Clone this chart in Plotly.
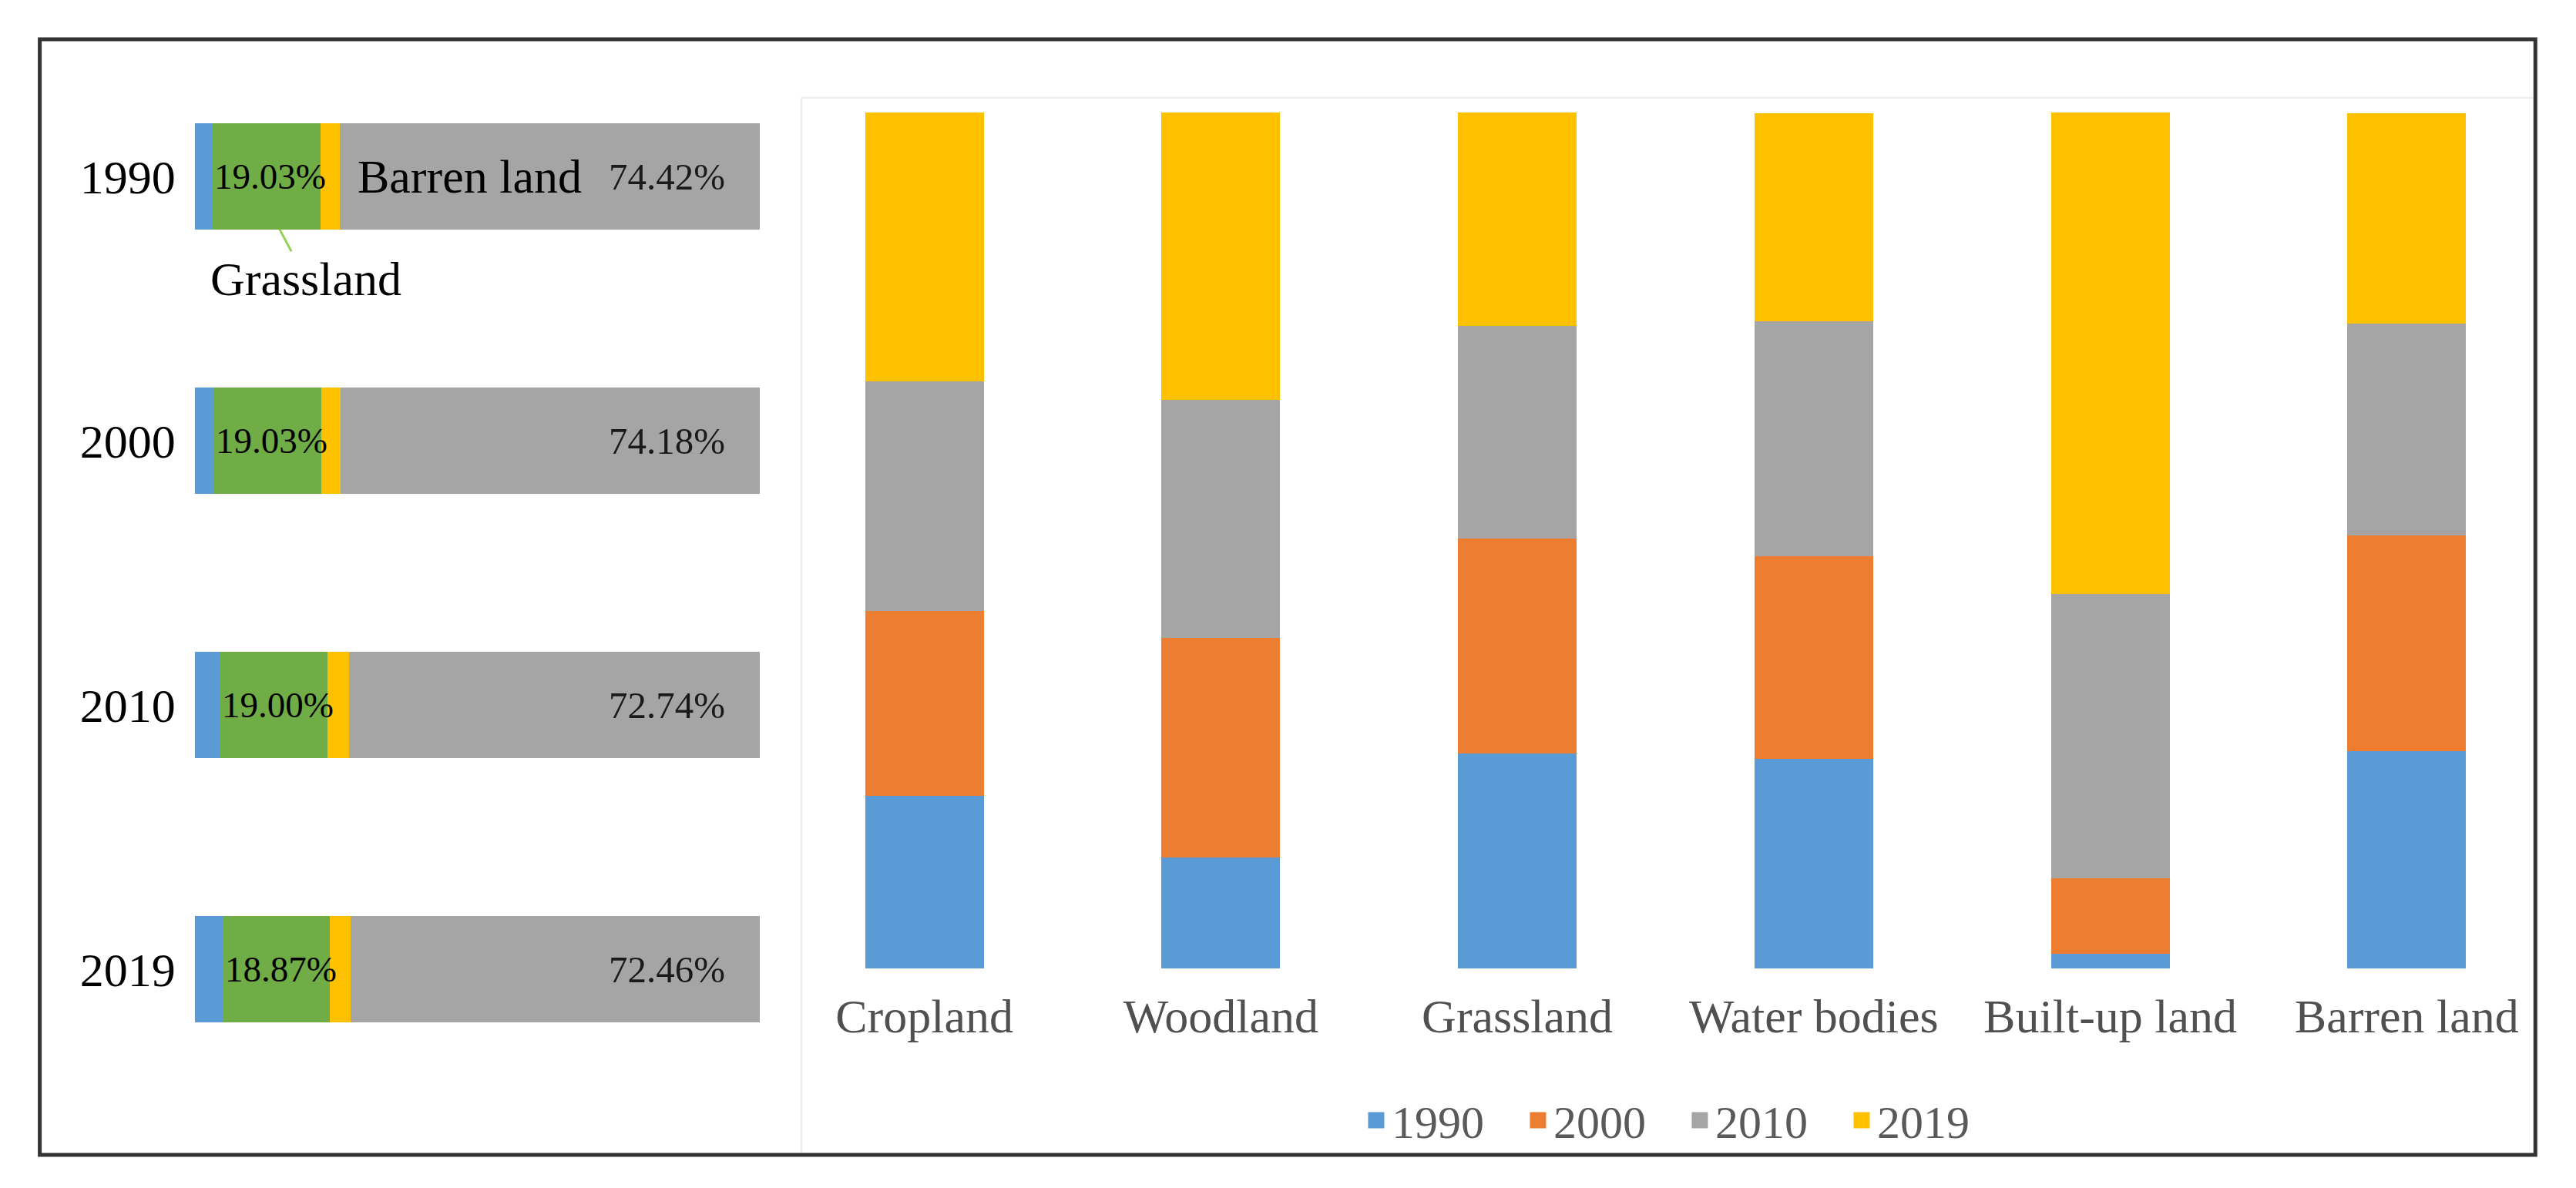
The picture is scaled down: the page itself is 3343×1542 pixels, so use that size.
import plotly.graph_objects as go

W, H = 3343, 1542
OFF = 8  # default page body margin in the exported html

# ---------------- data ----------------
years = ["1990", "2000", "2010", "2019"]
# Left panel: composition of the total area (%)
comp_cropland = [3.20, 3.40, 4.50, 5.00]
comp_grassland = [19.03, 19.03, 19.00, 18.87]
comp_other = [3.35, 3.39, 3.76, 3.67]
comp_barren = [74.42, 74.18, 72.74, 72.46]
grass_labels = ["19.03%", "19.03%", "19.00%", "18.87%"]
barren_labels = ["74.42%", "74.18%", "72.74%", "72.46%"]

# Right panel: share of each year within each land type (%)
land_types = ["Cropland", "Woodland", "Grassland", "Water bodies", "Built-up land", "Barren land"]
share_1990 = [20.2, 13.0, 25.1, 24.5, 1.7, 25.4]
share_2000 = [21.6, 25.6, 25.1, 23.7, 8.8, 25.2]
share_2010 = [26.8, 27.8, 24.9, 27.4, 33.2, 24.7]
share_2019 = [31.4, 33.6, 24.9, 24.3, 56.3, 24.6]

BLUE, ORANGE, GRAY, YELLOW, GREEN = "#5b9bd5", "#ed7d31", "#a5a5a5", "#ffc000", "#70ad47"
FONT = "Liberation Serif"


def px_x(p):
    return (p - OFF) / W


def px_y(p):
    return 1 - (p - OFF) / H


fig = go.Figure()

# ---------------- left panel: horizontal stacked bars ----------------
for name, vals, col in [("Cropland", comp_cropland, BLUE),
                        ("Grassland", comp_grassland, GREEN),
                        ("Other land", comp_other, YELLOW),
                        ("Barren land", comp_barren, GRAY)]:
    fig.add_trace(go.Bar(y=years, x=vals, orientation="h", name=name,
                         marker=dict(color=col, line=dict(width=0)), width=0.4,
                         xaxis="x", yaxis="y", showlegend=False, hoverinfo="x+y+name"))

# ---------------- right panel: vertical stacked bars ----------------
for yr, vals, col in [("1990", share_1990, BLUE), ("2000", share_2000, ORANGE),
                      ("2010", share_2010, GRAY), ("2019", share_2019, YELLOW)]:
    fig.add_trace(go.Bar(x=land_types, y=vals, name=yr,
                         marker=dict(color=col, line=dict(width=0)), width=0.4,
                         xaxis="x2", yaxis="y2", showlegend=False))
    # legend entry with a larger square symbol
    fig.add_trace(go.Scatter(x=[None], y=[None], mode="markers", name=yr,
                             marker=dict(symbol="square", size=16, color=col,
                                         line=dict(width=5, color=col)),
                             xaxis="x2", yaxis="y2", showlegend=True, hoverinfo="skip"))

# ---------------- annotations ----------------
ann = []
for i, yr in enumerate(years):
    ann.append(dict(xref="x", yref="y", x=comp_cropland[i], y=i, text=grass_labels[i],
                    xanchor="left", yanchor="middle", showarrow=False,
                    font=dict(family=FONT, size=47, color="#000000")))
    ann.append(dict(xref="x", yref="y", x=100, y=i, text=barren_labels[i], xshift=-43,
                    xanchor="right", yanchor="middle", showarrow=False,
                    font=dict(family=FONT, size=49, color="#1a1a1a")))

ann.append(dict(xref="x", yref="y",
                x=comp_cropland[0] + comp_grassland[0] + comp_other[0], y=0,
                text="Barren land", xshift=21, xanchor="left", yanchor="middle", showarrow=False,
                font=dict(family=FONT, size=62, color="#000000")))
ann.append(dict(xref="x", yref="y", x=comp_cropland[0] + comp_grassland[0] * 0.62, y=0.2,
                text="Grassland", showarrow=True, arrowhead=0, arrowwidth=3,
                arrowcolor="#92d050", ax=34, ay=64, standoff=0,
                font=dict(family=FONT, size=62, color="#000000")))

# ---------------- frame and faint panel lines ----------------
shapes = [
    dict(type="line", xref="paper", yref="paper", x0=px_x(1049), x1=px_x(1049),
         y0=px_y(127), y1=px_y(1496), line=dict(color="#ededed", width=2)),
    dict(type="line", xref="paper", yref="paper", x0=px_x(1049), x1=px_x(3316),
         y0=px_y(127), y1=px_y(127), line=dict(color="#ededed", width=2)),
    dict(type="rect", xref="paper", yref="paper", x0=px_x(52), x1=px_x(3319),
         y0=px_y(1499), y1=px_y(51), line=dict(color="#333333", width=5),
         fillcolor="rgba(0,0,0,0)"),
]

fig.update_layout(
    width=W, height=H, autosize=False,
    margin=dict(l=0, r=0, t=0, b=0),
    paper_bgcolor="white", plot_bgcolor="white",
    barmode="stack",
    font=dict(family=FONT, color="#000000"),
    xaxis=dict(domain=[px_x(255), px_x(995)], range=[0, 100], visible=False, fixedrange=True),
    yaxis=dict(domain=[px_y(1429.5), px_y(57.5)], type="category", categoryorder="array",
               categoryarray=years, range=[3.5, -0.5], showgrid=False, zeroline=False,
               showline=False, ticks="", ticklabelstandoff=24,
               tickfont=dict(family=FONT, size=62, color="#000000")),
    xaxis2=dict(domain=[px_x(1093.6), px_x(3267)], type="category", categoryorder="array",
                categoryarray=land_types, range=[-0.3, 5.3], showgrid=False, zeroline=False,
                showline=False, ticks="", ticklabelstandoff=20, anchor="y2",
                tickfont=dict(family=FONT, size=62, color="#505050")),
    yaxis2=dict(domain=[px_y(1257), px_y(146)], range=[0, 100], visible=False, anchor="x2"),
    legend=dict(orientation="h", x=px_x(2205), xanchor="center", y=px_y(1454),
                yanchor="middle", font=dict(family=FONT, size=60, color="#595959"),
                itemwidth=30, entrywidth=165, entrywidthmode="pixels",
                bgcolor="rgba(0,0,0,0)", traceorder="normal"),
    annotations=ann,
    shapes=shapes,
)

fig.write_html("out.html")
